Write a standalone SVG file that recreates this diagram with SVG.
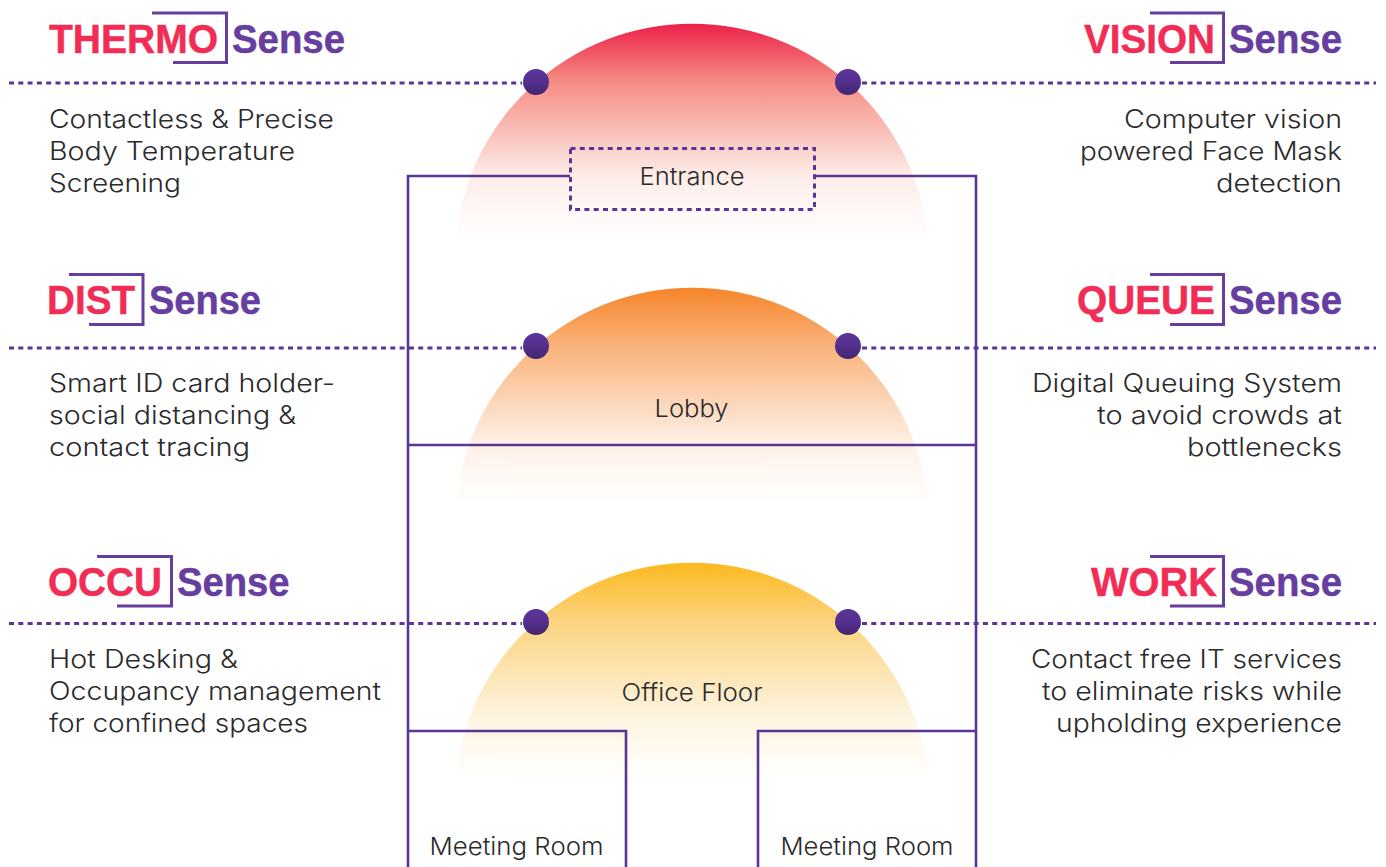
<svg xmlns="http://www.w3.org/2000/svg" width="1386" height="867" viewBox="0 0 1386 867">
<style>
.body{font-family:"Inter","Liberation Sans",sans-serif;font-weight:300;font-size:25.500px;fill:#2b2a2c}
.room{font-family:"Inter","Liberation Sans",sans-serif;font-weight:300;font-size:24px;fill:#2b2a2c}
.lg{font-family:"Liberation Sans",sans-serif;font-weight:700;font-size:41.500px;stroke-width:.5px}
.red{fill:#f12d55;stroke:#f12d55}
.pur{fill:#653e9f;stroke:#653e9f}
.br{fill:none;stroke:#653e9f;stroke-width:3}
.wall{fill:none;stroke:#5a3596;stroke-width:2.600}
.dash{fill:none;stroke:#5a3596;stroke-width:3;stroke-dasharray:5 4.300}
.dot{fill:url(#gd)}
</style>
<defs>
<linearGradient id="g1" x1="0" y1="0" x2="0" y2="1"><stop offset="0" stop-color="#ec2149"/><stop offset=".27" stop-color="#f58d84"/><stop offset=".7" stop-color="#fdece7"/><stop offset=".85" stop-color="#fff7f5"/><stop offset="1" stop-color="#fff"/></linearGradient>
<linearGradient id="g2" x1="0" y1="0" x2="0" y2="1"><stop offset="0" stop-color="#f6852a"/><stop offset=".27" stop-color="#fab27a"/><stop offset=".7" stop-color="#fdeee2"/><stop offset=".85" stop-color="#fff8f3"/><stop offset="1" stop-color="#fff"/></linearGradient>
<linearGradient id="g3" x1="0" y1="0" x2="0" y2="1"><stop offset="0" stop-color="#fcb91e"/><stop offset=".27" stop-color="#fcd37e"/><stop offset=".7" stop-color="#fdf3dd"/><stop offset=".85" stop-color="#fffaf0"/><stop offset="1" stop-color="#fff"/></linearGradient>
<linearGradient id="gd" x1="0" y1="0" x2="0" y2="1"><stop offset="0" stop-color="#5a3398"/><stop offset=".5" stop-color="#55308f"/><stop offset="1" stop-color="#43256f"/></linearGradient>
</defs>

<path id="dome-entrance" d="M455.900 240A237 237 0 0 1 928.100 240Z" fill="url(#g1)"/>
<path id="dome-lobby" d="M455.900 504A237 237 0 0 1 928.100 504Z" fill="url(#g2)"/>
<path id="dome-office" d="M455.900 779A237 237 0 0 1 928.100 779Z" fill="url(#g3)"/>

<g id="connectors">
<path class="wall" d="M570 176H408V867M815 176H976V867M408 445H976M408 731H626V867M976 731H758V867"/>
<path class="dash" d="M9 83H522M862 83H1376M9 348H522M862 348H1376M9 623.500H522M862 623.500H1376"/>
</g>

<g id="node-entrance"><rect class="dash" x="570.500" y="148.500" width="244" height="61"/><text class="room" x="639.500" y="185" textLength="105" lengthAdjust="spacingAndGlyphs">Entrance</text></g>
<g id="node-lobby"><text class="room" x="654.500" y="417" textLength="74" lengthAdjust="spacingAndGlyphs">Lobby</text></g>
<g id="node-office-floor"><text class="room" x="621.500" y="701" textLength="141" lengthAdjust="spacingAndGlyphs">Office Floor</text></g>
<g id="node-meeting-room-1"><text class="room" x="429.500" y="855" textLength="174" lengthAdjust="spacingAndGlyphs">Meeting Room</text></g>
<g id="node-meeting-room-2"><text class="room" x="780.500" y="855" textLength="173" lengthAdjust="spacingAndGlyphs">Meeting Room</text></g>

<g id="dots">
<circle class="dot" cx="536" cy="82" r="13"/><circle class="dot" cx="848" cy="82" r="13"/>
<circle class="dot" cx="536" cy="346" r="13"/><circle class="dot" cx="848" cy="346" r="13"/>
<circle class="dot" cx="536" cy="622" r="13"/><circle class="dot" cx="848" cy="622" r="13"/>
</g>

<g id="node-thermosense">
<path class="br" d="M152 13H226.500V62.500H173"/>
<text class="lg red" x="49" y="52.500" textLength="169" lengthAdjust="spacingAndGlyphs">THERMO</text>
<text class="lg pur" x="232" y="52.500" textLength="113" lengthAdjust="spacingAndGlyphs">Sense</text>
<text class="body" x="49" y="128" textLength="285" lengthAdjust="spacingAndGlyphs">Contactless &amp; Precise</text>
<text class="body" x="49" y="160" textLength="246" lengthAdjust="spacingAndGlyphs">Body Temperature</text>
<text class="body" x="49" y="192" textLength="132" lengthAdjust="spacingAndGlyphs">Screening</text>
</g>
<g id="node-visionsense">
<path class="br" d="M1150 13H1223.500V62.500H1170"/>
<text class="lg red" x="1084" y="52.500" textLength="131" lengthAdjust="spacingAndGlyphs">VISION</text>
<text class="lg pur" x="1229" y="52.500" textLength="113" lengthAdjust="spacingAndGlyphs">Sense</text>
<text class="body" x="1124" y="128" textLength="218" lengthAdjust="spacingAndGlyphs">Computer vision</text>
<text class="body" x="1080" y="160" textLength="262" lengthAdjust="spacingAndGlyphs">powered Face Mask</text>
<text class="body" x="1216" y="192" textLength="126" lengthAdjust="spacingAndGlyphs">detection</text>
</g>
<g id="node-distsense">
<path class="br" d="M69 274.500H143V324.500H89"/>
<text class="lg red" x="47" y="314" textLength="88" lengthAdjust="spacingAndGlyphs">DIST</text>
<text class="lg pur" x="149" y="314" textLength="112" lengthAdjust="spacingAndGlyphs">Sense</text>
<text class="body" x="49" y="392" textLength="286" lengthAdjust="spacingAndGlyphs">Smart ID card holder-</text>
<text class="body" x="49" y="424" textLength="247" lengthAdjust="spacingAndGlyphs">social distancing &amp;</text>
<text class="body" x="49" y="456" textLength="201" lengthAdjust="spacingAndGlyphs">contact tracing</text>
</g>
<g id="node-queuesense">
<path class="br" d="M1150 274.500H1223.500V324.500H1170"/>
<text class="lg red" x="1077" y="314" textLength="138" lengthAdjust="spacingAndGlyphs">QUEUE</text>
<text class="lg pur" x="1229" y="314" textLength="113" lengthAdjust="spacingAndGlyphs">Sense</text>
<text class="body" x="1032" y="392" textLength="310" lengthAdjust="spacingAndGlyphs">Digital Queuing System</text>
<text class="body" x="1097" y="424" textLength="245" lengthAdjust="spacingAndGlyphs">to avoid crowds at</text>
<text class="body" x="1187" y="456" textLength="155" lengthAdjust="spacingAndGlyphs">bottlenecks</text>
</g>
<g id="node-occusense">
<path class="br" d="M97 556.500H171.500V606H117"/>
<text class="lg red" x="48" y="595.500" textLength="114" lengthAdjust="spacingAndGlyphs">OCCU</text>
<text class="lg pur" x="177" y="595.500" textLength="112.500" lengthAdjust="spacingAndGlyphs">Sense</text>
<text class="body" x="49" y="668" textLength="189" lengthAdjust="spacingAndGlyphs">Hot Desking &amp;</text>
<text class="body" x="49" y="700" textLength="332" lengthAdjust="spacingAndGlyphs">Occupancy management</text>
<text class="body" x="49" y="732" textLength="259" lengthAdjust="spacingAndGlyphs">for confined spaces</text>
</g>
<g id="node-worksense">
<path class="br" d="M1150 556.500H1223.500V606H1170"/>
<text class="lg red" x="1091" y="595.500" textLength="126" lengthAdjust="spacingAndGlyphs">WORK</text>
<text class="lg pur" x="1229" y="595.500" textLength="113" lengthAdjust="spacingAndGlyphs">Sense</text>
<text class="body" x="1031" y="668" textLength="311" lengthAdjust="spacingAndGlyphs">Contact free IT services</text>
<text class="body" x="1042" y="700" textLength="300" lengthAdjust="spacingAndGlyphs">to eliminate risks while</text>
<text class="body" x="1056" y="732" textLength="286" lengthAdjust="spacingAndGlyphs">upholding experience</text>
</g>
</svg>
